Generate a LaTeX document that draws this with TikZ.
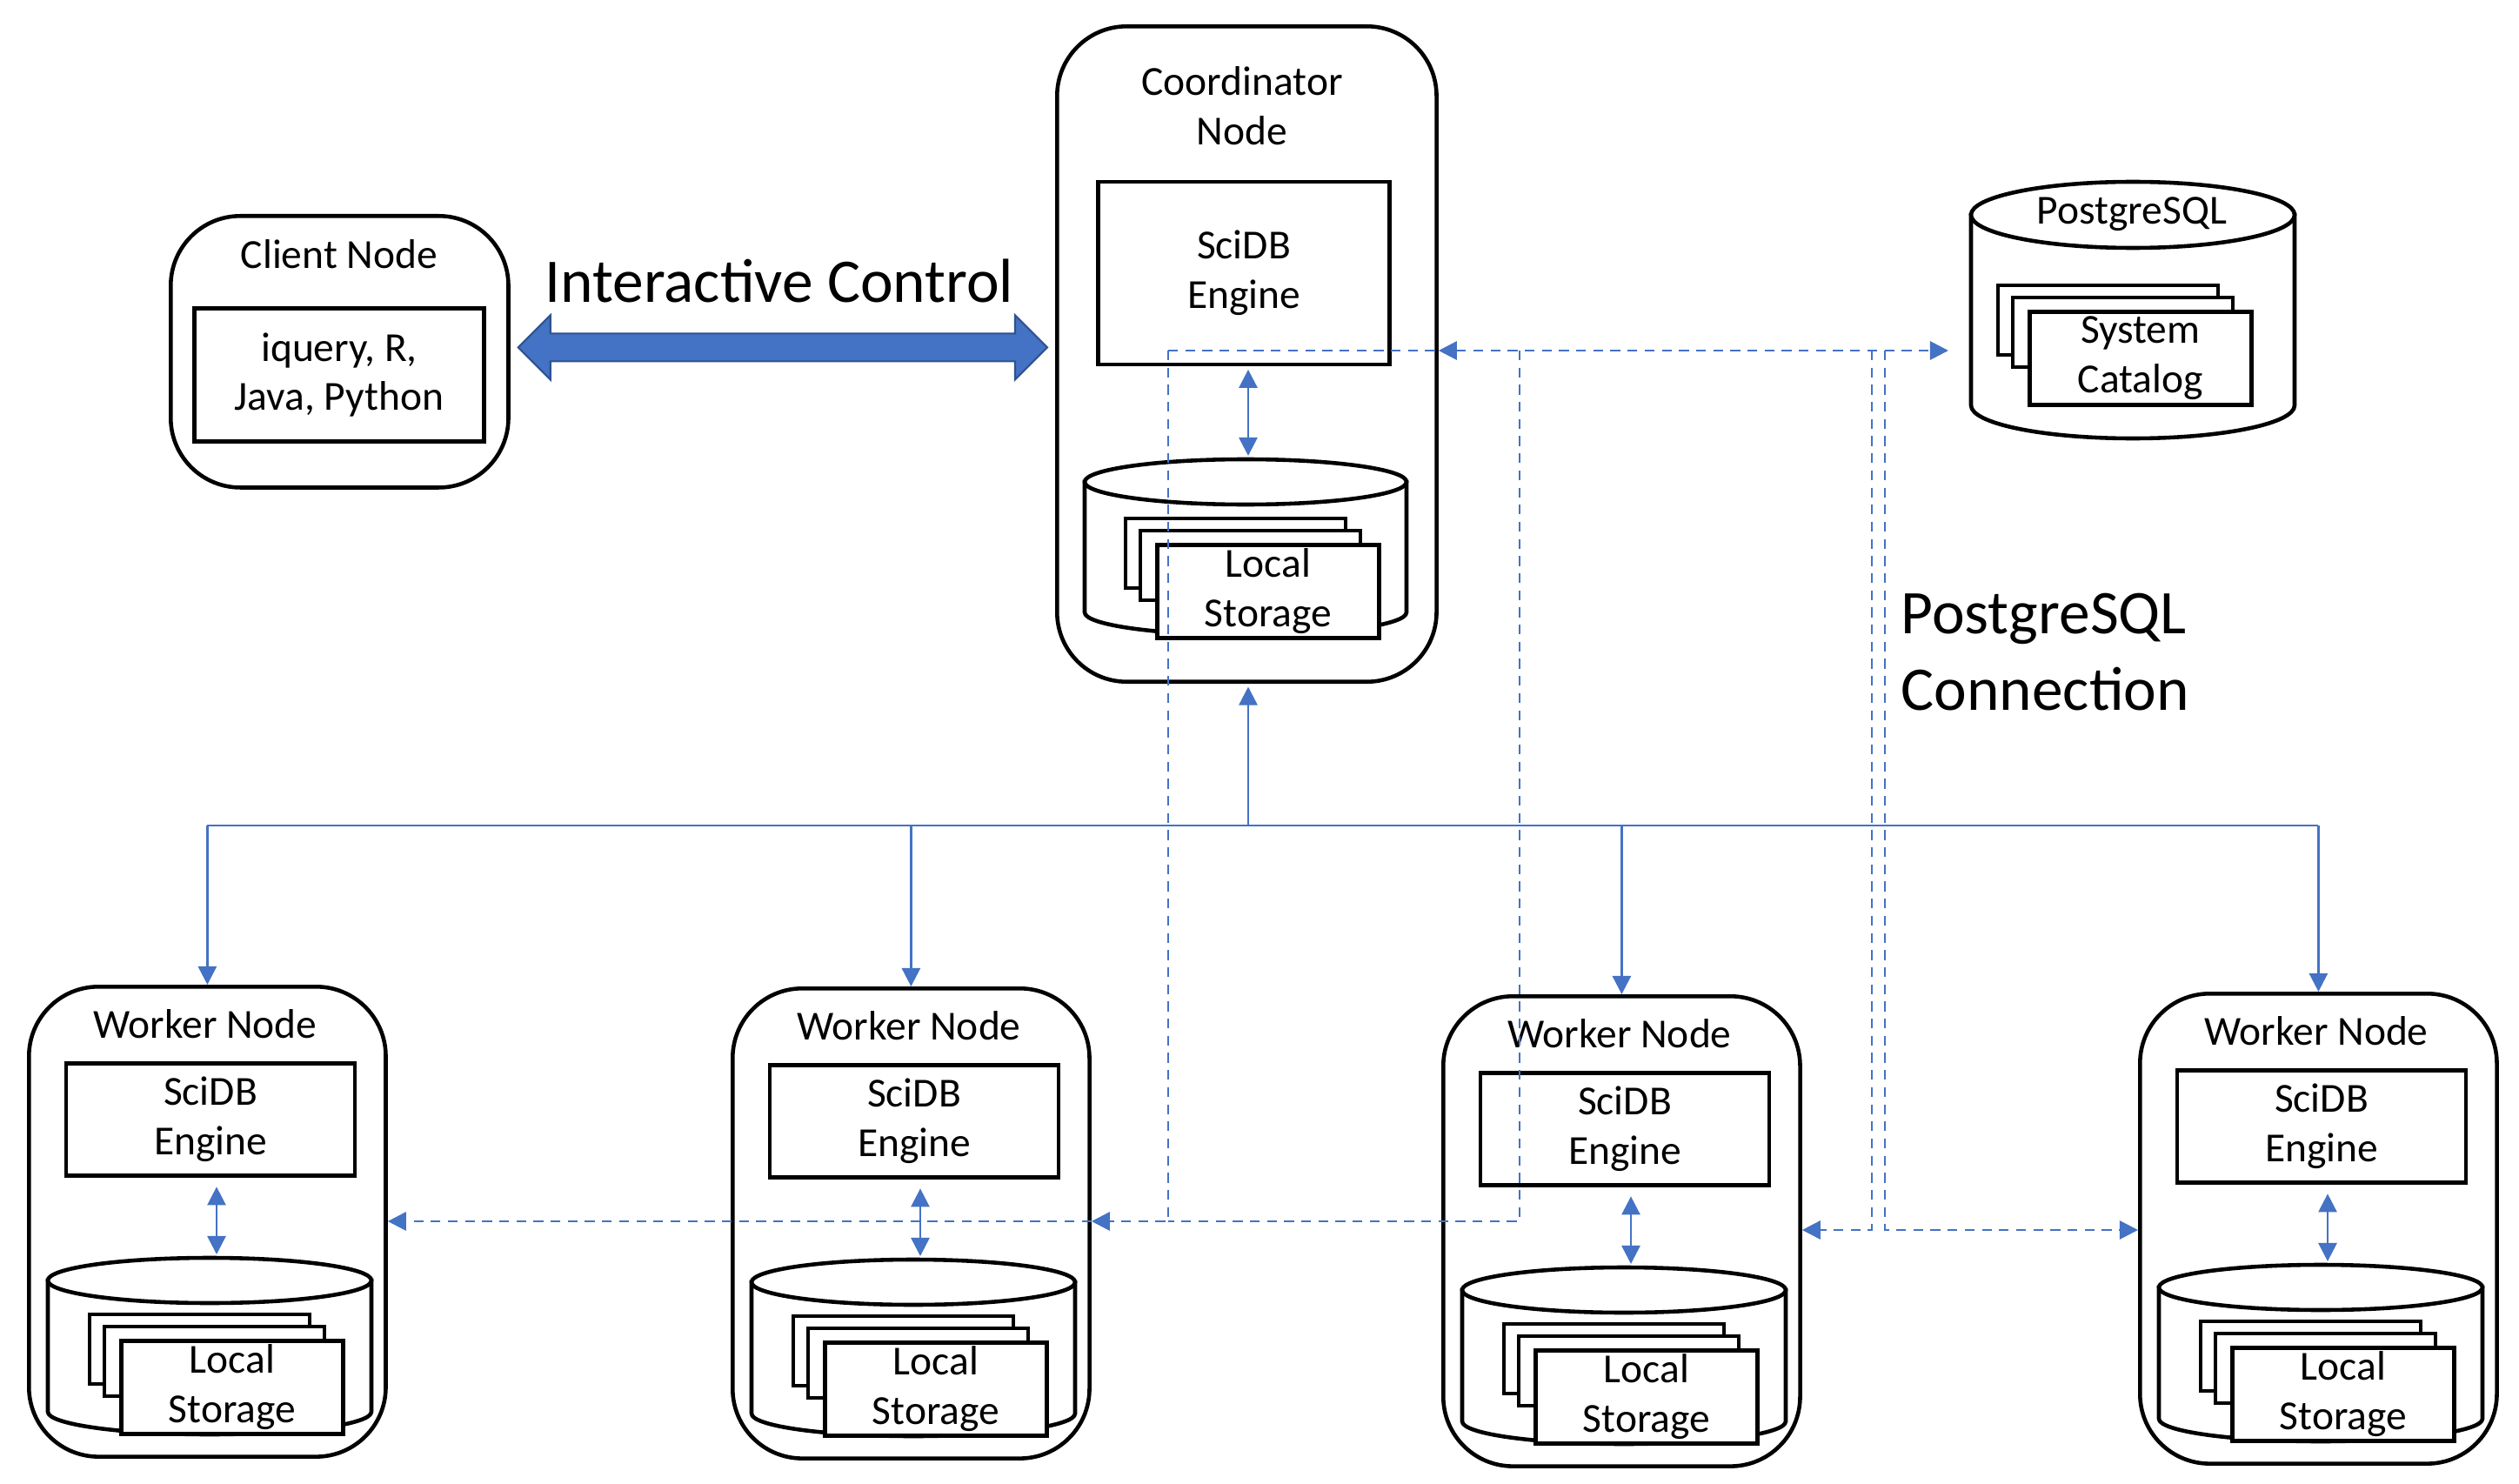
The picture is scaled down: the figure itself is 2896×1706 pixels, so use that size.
\documentclass[tikz,border=0pt]{standalone}
\usepackage{fontspec}
\setmainfont{Carlito}
\usetikzlibrary{arrows.meta,calc}
\definecolor{ablue}{HTML}{4472C4}
\definecolor{dblue}{HTML}{2F528F}

\tikzset{
  txt/.style={font=\fontsize{13.5}{16.2}\selectfont, inner sep=0pt, align=center},
  bigtxt/.style={font=\fontsize{20.3}{25}\selectfont, inner sep=0pt},
  outerbox/.style={draw, line width=1.3pt, rounded corners=0.8cm, fill=white},
  inbox/.style={draw, line width=1.3pt, fill=white, txt},
  pagebox/.style={draw, line width=1.3pt, fill=white},
  bline/.style={draw=ablue, line width=0.75pt},
  tip/.tip={Triangle[length=6pt,width=6pt]},
  barrow/.style={bline, tip-tip},
  sarrow/.style={bline, -tip},
  pgline/.style={draw=ablue, line width=0.8pt, dash pattern=on 3.2pt off 2.4pt},
}

\newcommand\dbcyl[5]{%
  \draw[line width=1.3pt, fill=white] (#1-#3,#2) -- (#1-#3,#2+#5)
     arc[start angle=180, end angle=360, x radius=#3*0.01cm, y radius=#4*0.01cm]
     -- (#1+#3,#2) -- cycle;
  \draw[line width=1.3pt, fill=white] (#1,#2) ellipse [x radius=#3*0.01cm, y radius=#4*0.01cm];
}
\newcommand\pagestack[4]{%
  \draw[pagebox] (#2-34,#3-28) rectangle ++(253,80);
  \draw[pagebox] (#2-17,#3-14) rectangle ++(253,80);
  \node[inbox, anchor=north west, minimum width=2.55cm, minimum height=1.07cm] (#1) at (#2,#3) {#4};
}
\newcommand\worker[3]{%
  \begin{scope}[shift={(#2,#3)}]
    \node[outerbox, anchor=north west, minimum width=4.1cm, minimum height=5.4cm] (#1) at (0,0) {};
    \node[txt] (#1t) at (205,45) {Worker Node};
    \node[inbox, minimum width=3.32cm, minimum height=1.29cm] (#1e) at (211,155) {SciDB\\Engine};
    \dbcyl{210}{340}{186}{26}{151}
    \coordinate (#1c) at (218,310);
    \draw[barrow, shorten <=3pt] (#1e.south -| #1c) -- (#1c);
    \pagestack{#1s}{106}{407}{Local\\Storage}
  \end{scope}
}

\begin{document}
\begin{tikzpicture}[x=0.01cm,y=-0.01cm]
\useasboundingbox (0,0) rectangle (2896,1706);

% Client node
\node[outerbox, anchor=north west, minimum width=3.88cm, minimum height=3.12cm] (client) at (194,246) {};
\node[txt] (clientt) at (390,292) {Client Node};
\node[inbox, minimum width=3.33cm, minimum height=1.53cm] (cliente) at (390,431) {iquery, R,\\Java, Python};

% Coordinator node
\node[outerbox, anchor=north west, minimum width=4.36cm, minimum height=7.53cm] (coord) at (1213,28) {};
\node[txt] (coordt) at (1428,122) {Coordinator\\Node};
\node[inbox, minimum width=3.35cm, minimum height=2.10cm] (coorde) at (1430,314) {SciDB\\Engine};
\dbcyl{1432}{554}{185}{26}{150}
\coordinate (coordc) at (1435,524);
\draw[barrow, shorten <=1pt] (coorde.south -| coordc) -- (coordc);
\pagestack{coords}{1328}{624}{Local\\Storage}

% PostgreSQL
\dbcyl{2452}{247}{186}{38}{219}
\node[txt] (pgt) at (2451,246) {PostgreSQL};
\pagestack{pgs}{2331}{356}{System\\Catalog}
\coordinate (pgw) at (2240,403);

% Interactive control
\node[bigtxt] (ictext) at (896,323) {Interactive Control};
\coordinate (iaL) at ($(client.east)+(9,-5)$);
\coordinate (iaR) at ($(coord.west |- iaL)+(-9,0)$);
\draw[fill=ablue, draw=dblue, line width=0.6pt]
  (iaL) -- ($(iaL)+(37,-37)$) -- ($(iaL)+(37,-16)$) -- ($(iaR)+(-37,-16)$)
  -- ($(iaR)+(-37,-37)$) -- (iaR) -- ($(iaR)+(-37,37)$) -- ($(iaR)+(-37,16)$)
  -- ($(iaL)+(37,16)$) -- ($(iaL)+(37,37)$) -- cycle;

% PostgreSQL connection label
\node[bigtxt, anchor=west, align=left] (pgconn) at (2185,750) {PostgreSQL\\Connection};

% Workers
\worker{wa}{31}{1132}
\worker{wb}{840}{1134}
\worker{wc}{1657}{1143}
\worker{wd}{2458}{1140}

% Solid bus
\coordinate (bus) at (1435,949);
\draw[bline] (wa.north |- bus) -- (wd.north |- bus);
\draw[sarrow, shorten >=1pt] (bus) -- (coord.south -| bus);
\draw[sarrow] (wa.north |- bus) -- (wa.north);
\draw[sarrow] (wb.north |- bus) -- (wb.north);
\draw[sarrow] (wc.north |- bus) -- (wc.north);
\draw[sarrow] (wd.north |- bus) -- (wd.north);

% Dashed PostgreSQL connections
\coordinate (d1) at (1343,403);
\coordinate (d2) at (1747,403);
\coordinate (d3) at (2152,403);
\coordinate (d4) at (2167,403);
\coordinate (lowL) at (0,1404);
\coordinate (lowR) at (0,1414);
\draw[pgline] (d1) -- (coord.east |- d1);
\draw[pgline, tip-tip] (coord.east |- d1) -- (pgw);
\draw[pgline] (d2) -- (d2 |- lowL) -- (d1 |- lowL);
\draw[pgline, -tip] (d1) -- (d1 |- lowL) -- (wb.east |- lowL);
\draw[pgline, -tip] (wb.east |- lowL) -- (wa.east |- lowL);
\draw[pgline, -tip] (d3) -- (d3 |- lowR) -- (wc.east |- lowR);
\draw[pgline, -tip] (d4) -- (d4 |- lowR) -- (wd.west |- lowR);
\end{tikzpicture}
\end{document}
